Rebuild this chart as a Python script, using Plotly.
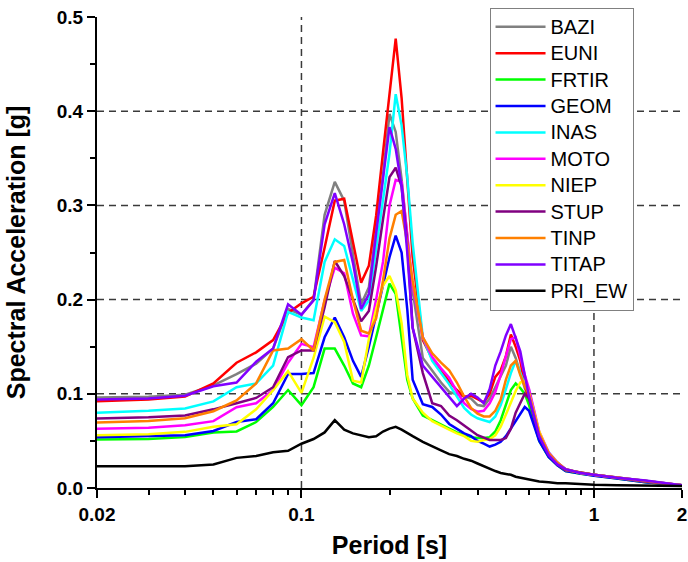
import plotly.graph_objects as go

periods = [0.02, 0.03, 0.04, 0.05, 0.06, 0.07, 0.08, 0.09, 0.1, 0.11, 0.12, 0.13, 0.14, 0.15,
           0.16, 0.17, 0.18, 0.19, 0.2, 0.21, 0.22, 0.23, 0.24, 0.26, 0.28, 0.3, 0.32, 0.34,
           0.36, 0.38, 0.4, 0.42, 0.44, 0.46, 0.48, 0.5, 0.52, 0.54, 0.56, 0.58, 0.6, 0.65,
           0.7, 0.75, 0.8, 0.9, 1.0, 1.2, 1.5, 2.0]

bazi = [0.096, 0.097, 0.099, 0.109, 0.121, 0.132, 0.148, 0.190, 0.184, 0.200, 0.290, 0.325, 0.305, 0.250,
        0.195, 0.213, 0.272, 0.332, 0.397, 0.378, 0.328, 0.266, 0.209, 0.138, 0.125, 0.112, 0.102, 0.099,
        0.097, 0.095, 0.088, 0.087, 0.095, 0.107, 0.118, 0.130, 0.150, 0.138, 0.122, 0.106, 0.095, 0.055,
        0.036, 0.026, 0.020, 0.016, 0.014, 0.011, 0.007, 0.003]
euni = [0.092, 0.094, 0.097, 0.111, 0.133, 0.144, 0.157, 0.186, 0.196, 0.203, 0.255, 0.305, 0.307, 0.262,
        0.218, 0.236, 0.289, 0.356, 0.420, 0.477, 0.414, 0.333, 0.245, 0.157, 0.137, 0.125, 0.113, 0.104,
        0.097, 0.098, 0.094, 0.091, 0.100, 0.118, 0.125, 0.140, 0.163, 0.150, 0.135, 0.110, 0.093, 0.053,
        0.036, 0.026, 0.019, 0.016, 0.014, 0.011, 0.007, 0.003]
frtir = [0.0515, 0.052, 0.054, 0.059, 0.060, 0.070, 0.086, 0.104, 0.088, 0.107, 0.148, 0.148, 0.130, 0.111,
         0.107, 0.130, 0.160, 0.190, 0.217, 0.206, 0.160, 0.115, 0.095, 0.077, 0.072, 0.067, 0.063, 0.059,
         0.056, 0.054, 0.053, 0.053, 0.054, 0.060, 0.072, 0.088, 0.104, 0.111, 0.106, 0.100, 0.088, 0.050,
         0.033, 0.024, 0.018, 0.015, 0.013, 0.010, 0.006, 0.003]
geom = [0.054, 0.055, 0.056, 0.0606, 0.070, 0.073, 0.090, 0.121, 0.121, 0.122, 0.160, 0.181, 0.160, 0.135,
        0.118, 0.150, 0.185, 0.215, 0.245, 0.268, 0.250, 0.190, 0.115, 0.089, 0.086, 0.078, 0.068, 0.063,
        0.058, 0.055, 0.050, 0.047, 0.044, 0.046, 0.049, 0.055, 0.063, 0.071, 0.078, 0.086, 0.082, 0.050,
        0.033, 0.024, 0.018, 0.015, 0.013, 0.010, 0.006, 0.003]
inas = [0.080, 0.082, 0.0845, 0.092, 0.107, 0.111, 0.130, 0.187, 0.181, 0.178, 0.240, 0.264, 0.257, 0.222,
        0.188, 0.199, 0.255, 0.310, 0.355, 0.418, 0.385, 0.330, 0.260, 0.160, 0.135, 0.122, 0.110, 0.097,
        0.085, 0.078, 0.074, 0.072, 0.070, 0.076, 0.088, 0.105, 0.122, 0.135, 0.122, 0.110, 0.104, 0.058,
        0.038, 0.027, 0.020, 0.016, 0.014, 0.011, 0.007, 0.003]
moto = [0.063, 0.064, 0.0667, 0.071, 0.0857, 0.090, 0.104, 0.133, 0.153, 0.1495, 0.199, 0.234, 0.228, 0.185,
        0.162, 0.161, 0.200, 0.240, 0.300, 0.327, 0.325, 0.265, 0.215, 0.160, 0.139, 0.127, 0.117, 0.102,
        0.090, 0.084, 0.081, 0.082, 0.090, 0.102, 0.120, 0.140, 0.158, 0.160, 0.140, 0.120, 0.105, 0.060,
        0.038, 0.027, 0.020, 0.016, 0.014, 0.011, 0.007, 0.003]
niep = [0.056, 0.057, 0.0596, 0.065, 0.0677, 0.0835, 0.1037, 0.124, 0.101, 0.138, 0.182, 0.176, 0.155, 0.114,
        0.112, 0.158, 0.190, 0.215, 0.225, 0.210, 0.175, 0.120, 0.095, 0.080, 0.071, 0.066, 0.062, 0.058,
        0.055, 0.050, 0.049, 0.051, 0.052, 0.056, 0.065, 0.078, 0.090, 0.103, 0.112, 0.114, 0.100, 0.060,
        0.036, 0.026, 0.019, 0.016, 0.014, 0.011, 0.007, 0.003]
stup = [0.0737, 0.075, 0.077, 0.0835, 0.090, 0.0956, 0.107, 0.139, 0.146, 0.146, 0.192, 0.241, 0.225, 0.200,
        0.177, 0.188, 0.235, 0.285, 0.330, 0.340, 0.320, 0.260, 0.170, 0.122, 0.090, 0.087, 0.077, 0.072,
        0.066, 0.061, 0.056, 0.053, 0.051, 0.051, 0.051, 0.053, 0.063, 0.080, 0.090, 0.100, 0.095, 0.055,
        0.035, 0.025, 0.019, 0.016, 0.014, 0.011, 0.007, 0.003]
tinp = [0.0695, 0.071, 0.074, 0.0815, 0.093, 0.111, 0.146, 0.148, 0.158, 0.146, 0.200, 0.240, 0.242, 0.200,
        0.167, 0.164, 0.180, 0.220, 0.265, 0.290, 0.294, 0.260, 0.220, 0.160, 0.143, 0.133, 0.125, 0.112,
        0.097, 0.085, 0.079, 0.076, 0.076, 0.082, 0.094, 0.115, 0.130, 0.135, 0.120, 0.108, 0.100, 0.058,
        0.037, 0.027, 0.020, 0.016, 0.014, 0.011, 0.007, 0.003]
titap = [0.094, 0.095, 0.098, 0.108, 0.112, 0.134, 0.148, 0.195, 0.184, 0.199, 0.280, 0.313, 0.280, 0.239,
         0.190, 0.206, 0.270, 0.330, 0.383, 0.360, 0.320, 0.250, 0.170, 0.130, 0.118, 0.108, 0.097, 0.087,
         0.095, 0.100, 0.096, 0.090, 0.105, 0.130, 0.145, 0.162, 0.174, 0.160, 0.145, 0.120, 0.097, 0.055,
         0.035, 0.025, 0.020, 0.016, 0.014, 0.011, 0.008, 0.003]
pri_ew = [0.023, 0.023, 0.023, 0.025, 0.032, 0.034, 0.038, 0.0395, 0.047, 0.052, 0.059, 0.072, 0.062, 0.058,
          0.056, 0.054, 0.055, 0.060, 0.063, 0.065, 0.062, 0.058, 0.055, 0.049, 0.044, 0.040, 0.036, 0.034,
          0.031, 0.029, 0.026, 0.023, 0.021, 0.018, 0.016, 0.015, 0.014, 0.012, 0.011, 0.010, 0.0085, 0.007,
          0.006, 0.005, 0.005, 0.004, 0.0035, 0.003, 0.0025, 0.002]

series_names = ["BAZI", "EUNI", "FRTIR", "GEOM", "INAS", "MOTO", "NIEP", "STUP", "TINP", "TITAP", "PRI_EW"]
series_values = [bazi, euni, frtir, geom, inas, moto, niep, stup, tinp, titap, pri_ew]

x_tick_vals = [0.02, 0.1, 1, 2]
x_tick_text = ["0.02", "0.1", "1", "2"]
x_minor_vals = [0.03, 0.04, 0.05, 0.06, 0.07, 0.08, 0.09, 0.2, 0.3, 0.4, 0.5, 0.6, 0.7, 0.8, 0.9]
y_tick_vals = [0.0, 0.1, 0.2, 0.3, 0.4, 0.5]
y_tick_text = ["0.0", "0.1", "0.2", "0.3", "0.4", "0.5"]
y_minor_vals = [0.05, 0.15, 0.25, 0.35, 0.45]
grid_x = [0.1, 1]
grid_y = [0.1, 0.2, 0.3, 0.4]

colors = {"BAZI": "#808080", "EUNI": "#FF0000", "FRTIR": "#00FF00", "GEOM": "#0000FF",
          "INAS": "#00FFFF", "MOTO": "#FF00FF", "NIEP": "#FFFF00", "STUP": "#800080",
          "TINP": "#FF8000", "TITAP": "#8000FF", "PRI_EW": "#000000"}

FONT = "Liberation Sans, Arial, sans-serif"

fig = go.Figure()
for name, vals in zip(series_names, series_values):
    fig.add_trace(go.Scatter(x=periods, y=vals, mode="lines",
                             name="<span style='font-size:20px'>" + name + "</span>",
                             line=dict(color=colors[name], width=2.5)))

grid_line = dict(color="#3a3a3a", width=1.5, dash="7px,5px")
for gx in grid_x:
    fig.add_shape(type="line", xref="x", yref="paper", x0=gx, x1=gx, y0=0, y1=1,
                  line=grid_line, layer="below")
for gy in grid_y:
    fig.add_shape(type="line", xref="paper", yref="y", x0=0, x1=1, y0=gy, y1=gy,
                  line=grid_line, layer="below")

fig.update_layout(
    width=688, height=562,
    margin=dict(l=97, r=6, t=17, b=74, autoexpand=False),
    paper_bgcolor="white", plot_bgcolor="white",
    font=dict(family=FONT, color="black"),
    showlegend=True,
    legend=dict(x=0.671, y=1.02, xanchor="left", yanchor="top",
                bgcolor="white", bordercolor="#808080", borderwidth=1,
                font=dict(family=FONT, size=18, color="black"),
                itemwidth=50, tracegroupgap=0, maxheight=540),
    xaxis=dict(type="log", range=[-1.69897, 0.30103], autorange=False, automargin=False,
               tickvals=x_tick_vals, ticktext=x_tick_text, ticklabeloverflow="allow",
               ticks="outside", ticklen=8, tickwidth=2, tickcolor="black",
               showline=True, linecolor="black", linewidth=2, showgrid=False, zeroline=False,
               tickfont=dict(family=FONT, size=19, weight="bold"),
               minor=dict(tickvals=x_minor_vals, ticks="outside", ticklen=5, tickwidth=2,
                          tickcolor="black", showgrid=False),
               title=dict(text="Period [s]", standoff=13,
                          font=dict(family=FONT, size=25, weight="bold"))),
    yaxis=dict(range=[0, 0.5], autorange=False, automargin=False,
               tickvals=y_tick_vals, ticktext=y_tick_text,
               ticks="outside", ticklen=8, tickwidth=2, tickcolor="black",
               showline=True, linecolor="black", linewidth=2, showgrid=False, zeroline=False,
               tickfont=dict(family=FONT, size=19, weight="bold"),
               minor=dict(tickvals=y_minor_vals, ticks="outside", ticklen=5, tickwidth=2,
                          tickcolor="black", showgrid=False),
               title=dict(text="Spectral Acceleration [g]", standoff=24,
                          font=dict(family=FONT, size=25, weight="bold"))),
)

fig.write_html("out.html", config={"displayModeBar": False},
               post_script="document.body.style.margin='0px';")
